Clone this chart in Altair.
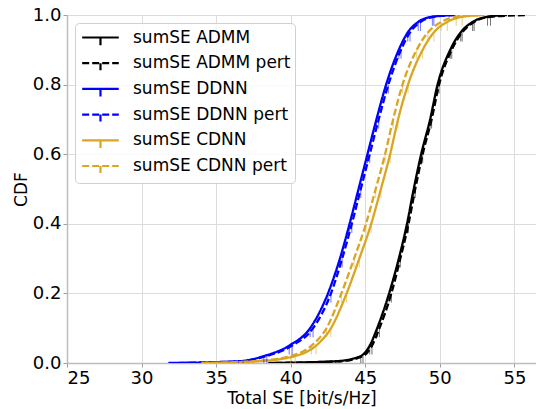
import altair as alt
import pandas as pd

cdf_levels = [0, 0.005, 0.02, 0.05, 0.1, 0.2, 0.3, 0.4, 0.5, 0.6, 0.7, 0.8, 0.9, 0.95, 0.98, 0.995, 1.0]

series_names = ["sumSE ADMM", "sumSE ADMM pert", "sumSE DDNN", "sumSE DDNN pert", "sumSE CDNN", "sumSE CDNN pert"]
series_colors = ["#000000", "#000000", "#0000ff", "#0000ff", "#daa520", "#daa520"]
series_dash = [[1, 0], [7, 3], [1, 0], [7, 3], [1, 0], [7, 3]]

admm = [38.5, 43.0, 44.7, 45.3, 45.8, 46.6, 47.25, 47.8, 48.25, 48.75, 49.35, 49.85, 50.7, 51.4, 52.2, 53.2, 54.5]
admm_pert = [39.0, 43.3, 44.85, 45.45, 45.95, 46.75, 47.35, 47.9, 48.35, 48.85, 49.45, 49.95, 50.8, 51.5, 52.3, 53.4, 55.9]
ddnn = [31.8, 36.5, 38.2, 39.9, 41.3, 42.5, 43.3, 43.95, 44.55, 45.15, 45.75, 46.4, 47.25, 47.85, 48.55, 49.5, 51.0]
ddnn_pert = [32.5, 36.8, 38.4, 40.1, 41.5, 42.7, 43.45, 44.1, 44.7, 45.3, 45.9, 46.55, 47.4, 48.0, 48.7, 49.6, 51.3]
cdnn = [34.3, 37.8, 40.3, 41.7, 42.7, 43.75, 44.6, 45.4, 46.05, 46.67, 47.2, 47.87, 48.85, 49.6, 50.5, 51.5, 53.0]
cdnn_pert = [34.0, 37.5, 40.0, 41.4, 42.4, 43.4, 44.25, 45.05, 45.7, 46.33, 46.87, 47.5, 48.45, 49.2, 50.1, 51.1, 52.8]

x_ticks = [25, 30, 35, 40, 45, 50, 55]
y_ticks = [0, 0.2, 0.4, 0.6, 0.8, 1.0]

all_x = [admm, admm_pert, ddnn, ddnn_pert, cdnn, cdnn_pert]
rows = []
for name, col, xs in zip(series_names, series_colors, all_x):
    for i, (xv, yv) in enumerate(zip(xs, cdf_levels)):
        rows.append({"series": name, "hex": col, "se": xv, "cdf": yv, "order": i})
df = pd.DataFrame(rows)

x_enc = alt.X("se:Q", scale=alt.Scale(domain=[25, 56.45], nice=False, zero=False),
              axis=alt.Axis(values=x_ticks, title="Total SE [bit/s/Hz]", format="d"))
y_enc = alt.Y("cdf:Q", scale=alt.Scale(domain=[0, 1], nice=False),
              axis=alt.Axis(values=y_ticks, title="CDF", format=".1f"))

lines = alt.Chart(df).mark_line(strokeWidth=2.3, interpolate="monotone", clip=True).encode(
    x=x_enc,
    y=y_enc,
    color=alt.Color("series:N", scale=alt.Scale(domain=series_names, range=series_colors),
                    sort=series_names, title=None),
    strokeDash=alt.StrokeDash("series:N", scale=alt.Scale(domain=series_names, range=series_dash),
                              sort=series_names, title=None),
    detail="series:N",
    order="order:Q",
)

ticks = alt.Chart(df[(df.cdf > 0) & (df.cdf < 1)]).mark_tick(
    orient="vertical", size=9, thickness=1, yOffset=4.5, opacity=0.55, clip=True
).encode(
    x="se:Q",
    y="cdf:Q",
    color=alt.Color("hex:N", scale=None),
)

chart = alt.layer(lines, ticks).properties(
    width=469, height=348,
    autosize=alt.AutoSizeParams(type="none"),
    padding={"left": 67, "top": 15, "right": 0, "bottom": 46},
).configure_view(
    stroke="#bdbdbd", strokeWidth=1
).configure_axis(
    labelFont="DejaVu Sans", labelFontSize=18, labelColor="#000000",
    titleFont="DejaVu Sans", titleFontSize=17, titleFontWeight="normal", titleColor="#000000",
    gridColor="#dcdcdc", gridWidth=1, domainColor="#bdbdbd", domainWidth=1.5,
    tickColor="#9e9e9e", tickSize=4, labelPadding=2,
).configure_axisX(
    titlePadding=3,
).configure_axisY(
    titlePadding=2,
).configure_legend(
    orient="top-left", offset=8,
    symbolType="M-0.8,0H3.2M1.2,0V0.84", symbolSize=335, symbolStrokeWidth=2.2,
    symbolOpacity=1,
    labelFont="DejaVu Sans", labelFontSize=17, labelColor="#000000", labelOffset=33,
    strokeColor="#d0d0d0", fillColor="rgba(255,255,255,0.85)", cornerRadius=4,
    padding=4, rowPadding=2.7,
)

chart.save("out.html", embed_options={"renderer": "svg", "actions": False})
